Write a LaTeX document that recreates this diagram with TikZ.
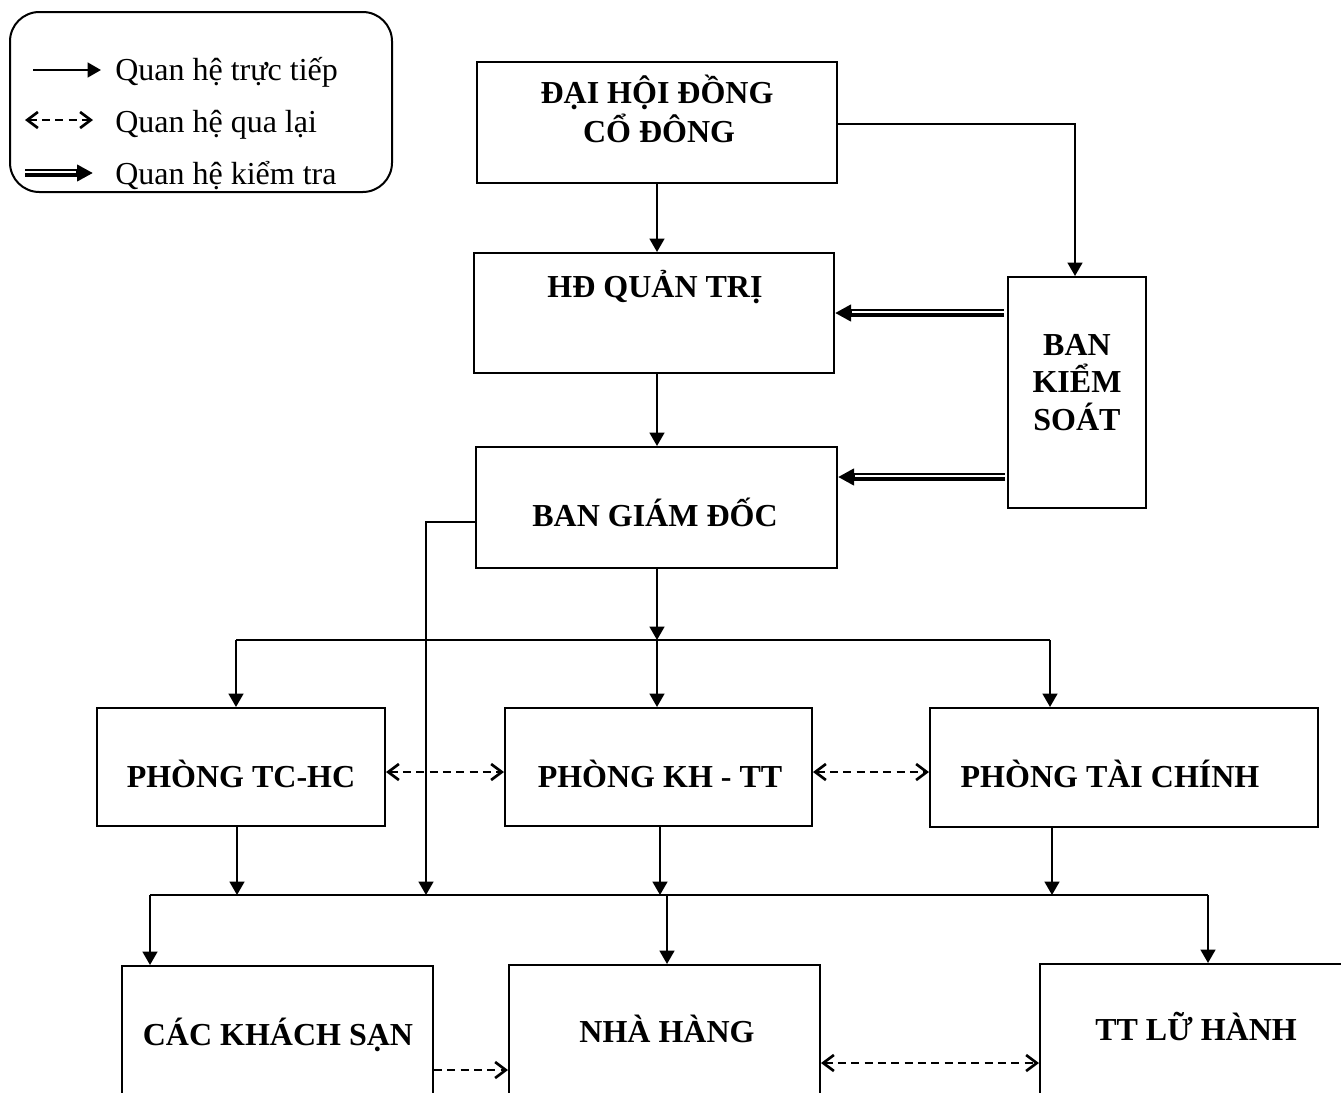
\documentclass[tikz,border=0pt]{standalone}
\usepackage{fontspec}
\setmainfont{Liberation Serif}
\usetikzlibrary{arrows.meta,fit,calc}
\begin{document}
\begin{tikzpicture}[x=0.75pt,y=-0.75pt,
 box/.style={draw, line width=1.5pt, inner sep=0pt},
 lbl/.style={font=\fontsize{24}{29}\selectfont\bfseries, anchor=base, inner sep=0pt},
 leg/.style={font=\fontsize{24}{29}\selectfont, anchor=base west, inner sep=0pt},
 ln/.style={line width=1.6pt},
 arr/.style={line width=1.7pt, -{Triangle[length=10pt,width=11pt]}},
 dbl/.style={line width=5.5pt, -{Triangle[length=12pt,width=12pt]}},
 dsh/.style={line width=2pt, dash pattern=on 6pt off 4pt},
 dar/.style={dsh, {Straight Barb[length=8pt,width=12pt,line width=2pt]}-{Straight Barb[length=8pt,width=12pt,line width=2pt]}},
 dar1/.style={dsh, -{Straight Barb[length=8pt,width=12pt,line width=2pt]}},
]
\useasboundingbox (0,0) rectangle (1341,1092);
\clip (0,0) rectangle (1341,1092);

% legend
\node[box, rounded corners=22pt, fit={(10,12) (392,192)}] (legend) {};
\coordinate (l1a) at (33,70); \coordinate (l1b) at (101,70);
\coordinate (l2a) at (25,120); \coordinate (l2b) at (93,120);
\coordinate (l3a) at (25,173); \coordinate (l3b) at (93,173);
\draw[arr] (l1a) -- (l1b);
\draw[dar] (l2a) -- (l2b);
\draw[dbl] (l3a) -- (l3b);
\draw[white, line width=1.1pt] ($(l3a)+(0,-0.8)$) -- ($(l3b)+(-17,-0.8)$);
\node[leg] (t1) at (115,80) {Quan hệ trực tiếp};
\node[leg] (t2) at (115,132) {Quan hệ qua lại};
\node[leg] (t3) at (115,184) {Quan hệ kiểm tra};

% boxes
\node[box, fit={(477,62) (837,183)}] (dh) {};
\node[box, fit={(474,253) (834,373)}] (hd) {};
\node[box, fit={(1008,277) (1146,508)}] (bks) {};
\node[box, fit={(476,447) (837,568)}] (bgd) {};
\node[box, fit={(97,708) (385,826)}] (tchc) {};
\node[box, fit={(505,708) (812,826)}] (khtt) {};
\node[box, fit={(930,708) (1318,827)}] (tcs) {};
\node[box, fit={(122,966) (433,1120)}] (cks) {};
\node[box, fit={(509,965) (820,1120)}] (nh) {};
\node[box, fit={(1040,964) (1380,1120)}] (tt) {};

% texts
\node[lbl] (dht1) at (657,103) {ĐẠI HỘI ĐỒNG};
\node[lbl] (dht2) at (659,142) {CỔ ĐÔNG};
\node[lbl] (hdt) at (655,297) {HĐ QUẢN TRỊ};
\node[lbl] (bk1) at (1077,355) {BAN};
\node[lbl] (bk2) at (1077,392) {KIỂM};
\node[lbl] (bk3) at (1077,430) {SOÁT};
\node[lbl] (bgdt) at (655,526) {BAN GIÁM ĐỐC};
\node[lbl] (tchct) at (241,787) {PHÒNG TC-HC};
\node[lbl] (khttt) at (660,787) {PHÒNG KH - TT};
\node[lbl] (tcst) at (1110,787) {PHÒNG TÀI CHÍNH};
\node[lbl] (ckst) at (278,1045) {CÁC KHÁCH SẠN};
\node[lbl] (nht) at (667,1042) {NHÀ HÀNG};
\node[lbl] (ttt) at (1196,1040) {TT LỮ HÀNH};

% top connections
\coordinate (x657) at (657,0);
\draw[arr] (x657 |- dh.south) -- (x657 |- hd.north);
\draw[arr] (x657 |- hd.south) -- (x657 |- bgd.north);
\coordinate (c1) at (1075,124);
\draw[arr] (dh.east |- c1) -- (c1) -- (c1 |- bks.north);

% control double arrows
\coordinate (k1) at (1004,313);
\coordinate (k2) at (1005,477);
\coordinate (k1e) at (hd.east |- k1);
\coordinate (k2e) at (bgd.east |- k2);
\draw[dbl] (k1) -- (k1e);
\draw[white, line width=1.1pt] ($(k1)+(0,-0.8)$) -- ($(k1e)+(17,-0.8)$);
\draw[dbl] (k2) -- (k2e);
\draw[white, line width=1.1pt] ($(k2)+(0,-0.8)$) -- ($(k2e)+(17,-0.8)$);

% bus 1
\coordinate (b1L) at (236,640);
\coordinate (b1R) at (1050,640);
\draw[ln] (b1L) -- (b1R);
\draw[arr] (x657 |- bgd.south) -- (x657 |- b1L);
\draw[arr] (b1L) -- (b1L |- tchc.north);
\draw[arr] (x657 |- b1L) -- (x657 |- khtt.north);
\draw[arr] (b1R) -- (b1R |- tcs.north);

% dashed row 2
\coordinate (r2) at (0,772);
\draw[dar] (tchc.east |- r2) -- (khtt.west |- r2);
\draw[dar] (khtt.east |- r2) -- (tcs.west |- r2);

% bus 2
\coordinate (b2L) at (150,895);
\coordinate (b2R) at (1208,895);
\coordinate (g1) at (426,522);
\coordinate (u1) at (237,0);
\coordinate (u2) at (660,0);
\coordinate (u3) at (1052,0);
\coordinate (u4) at (667,0);
\draw[ln] (b2L) -- (b2R);
\draw[arr] (bgd.west |- g1) -- (g1) -- (g1 |- b2L);
\draw[arr] (u1 |- tchc.south) -- (u1 |- b2L);
\draw[arr] (u2 |- khtt.south) -- (u2 |- b2L);
\draw[arr] (u3 |- tcs.south) -- (u3 |- b2L);
\draw[arr] (b2L) -- (b2L |- cks.north);
\draw[arr] (u4 |- b2L) -- (u4 |- nh.north);
\draw[arr] (b2R) -- (b2R |- tt.north);

% dashed row 3
\coordinate (r3a) at (0,1070);
\coordinate (r3b) at (0,1063);
\draw[dar1] (cks.east |- r3a) -- (nh.west |- r3a);
\draw[dar] (nh.east |- r3b) -- (tt.west |- r3b);
\end{tikzpicture}
\end{document}
